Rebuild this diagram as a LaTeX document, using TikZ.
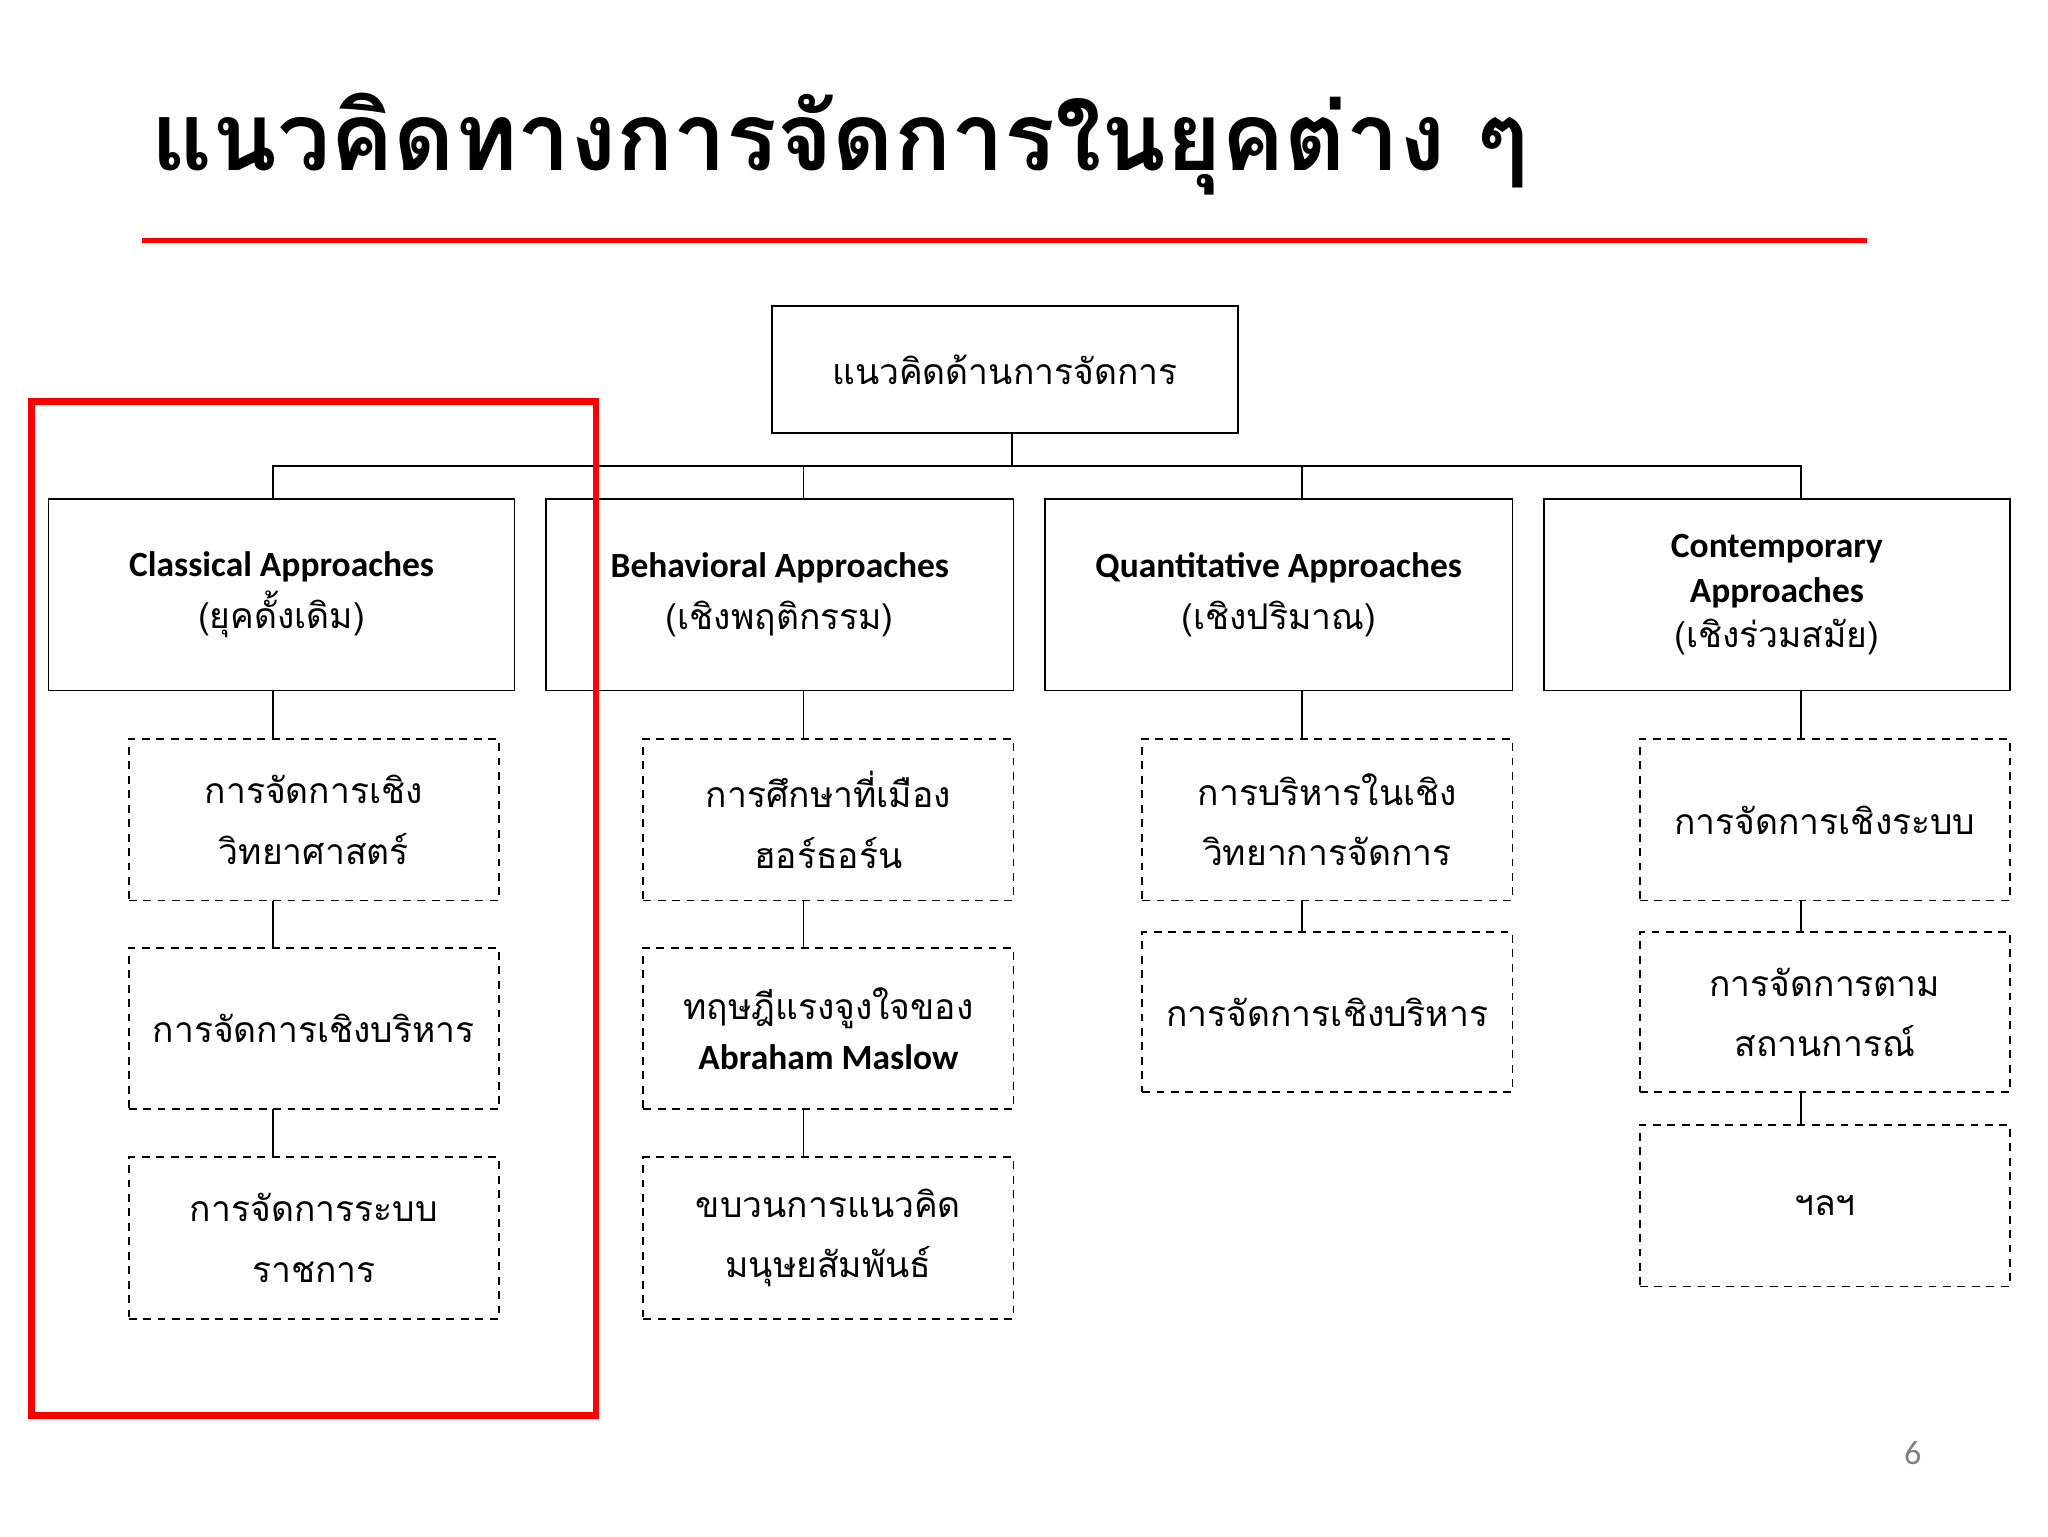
\documentclass[tikz,border=0pt]{standalone}
\usepackage{fontspec}
\setmainfont{Carlito}
\newfontfamily\thf[Script=Thai]{Loma}
\begin{document}
\begin{tikzpicture}[x=1pt,y=-1pt,
 solidbox/.style={draw,line width=1.3pt,align=center,font=\fontsize{27}{40}\selectfont},
 dbox/.style={draw,dashed,line width=1.3pt,dash pattern=on 6pt off 5pt,align=center,font=\fontsize{27}{46}\selectfont\thf},
 ln/.style={line width=1.3pt}]
\useasboundingbox (0,0) rectangle (1560,1170);
\fill[white] (0,0) rectangle (1560,1170);
\node[anchor=base west,font=\fontsize{72}{80}\selectfont\thf\bfseries] (title) at (112,130) {แนวคิดทางการจัดการในยุคต่าง ๆ};
\draw[red,line width=4pt] (108,183) -- (1422,183);
\node[solidbox,minimum width=355pt,minimum height=97pt,font=\fontsize{27}{40}\selectfont\thf] (top) at (765.5,281.5) {แนวคิดด้านการจัดการ};
% level 1
\node[solidbox,minimum width=355pt,minimum height=146pt] (c1) at (214.5,453) {\textbf{Classical Approaches}\\{\thf (ยุคดั้งเดิม)}};
\node[solidbox,minimum width=356pt,minimum height=146pt] (c2) at (594,453) {\textbf{Behavioral Approaches}\\{\thf (เชิงพฤติกรรม)}};
\node[solidbox,minimum width=356pt,minimum height=146pt] (c3) at (974,453) {\textbf{Quantitative Approaches}\\{\thf (เชิงปริมาณ)}};
\node[solidbox,minimum width=355pt,minimum height=146pt,font=\fontsize{27}{34}\selectfont] (c4) at (1353.5,453) {\textbf{Contemporary}\\\textbf{Approaches}\\{\thf (เชิงร่วมสมัย)}};
\coordinate (bus) at (771,355);
\draw[ln] (771,330) -- (bus);
\draw[ln] (208,380) -- (208,355) -- (1372,355) -- (1372,380);
\draw[ln] (612,355) -- (612,380);
\draw[ln] (992,355) -- (992,380);
% column 1
\node[dbox,minimum width=282pt,minimum height=123pt] (a1) at (239,624.5) {การจัดการเชิง\\วิทยาศาสตร์};
\node[dbox,minimum width=282pt,minimum height=123pt] (a2) at (239,783.5) {การจัดการเชิงบริหาร};
\node[dbox,minimum width=282pt,minimum height=123pt] (a3) at (239,943) {การจัดการระบบ\\ราชการ};
\draw[ln] (208,526) -- (208,563); \draw[ln] (208,686) -- (208,722); \draw[ln] (208,845) -- (208,882);
% column 2
\node[dbox,minimum width=282pt,minimum height=123pt] (b1) at (631,624.5) {การศึกษาที่เมือง\\ฮอร์ธอร์น};
\node[dbox,minimum width=282pt,minimum height=123pt,font=\fontsize{27}{38}\selectfont] (b2) at (631,783.5) {{\thf ทฤษฎีแรงจูงใจของ}\\\textbf{Abraham Maslow}};
\node[dbox,minimum width=282pt,minimum height=123pt] (b3) at (631,943) {ขบวนการแนวคิด\\มนุษยสัมพันธ์};
\draw[ln] (612,526) -- (612,563); \draw[ln] (612,686) -- (612,722); \draw[ln] (612,845) -- (612,882);
% column 3
\node[dbox,minimum width=282pt,minimum height=123pt] (q1) at (1011,624.5) {การบริหารในเชิง\\วิทยาการจัดการ};
\node[dbox,minimum width=282pt,minimum height=122pt] (q2) at (1011,771) {การจัดการเชิงบริหาร};
\draw[ln] (992,526) -- (992,563); \draw[ln] (992,686) -- (992,710);
% column 4
\node[dbox,minimum width=282pt,minimum height=123pt] (d1) at (1390,624.5) {การจัดการเชิงระบบ};
\node[dbox,minimum width=282pt,minimum height=122pt] (d2) at (1390,771) {การจัดการตาม\\สถานการณ์};
\node[dbox,minimum width=282pt,minimum height=123pt] (d3) at (1390,918.5) {ฯลฯ};
\draw[ln] (1372,526) -- (1372,563); \draw[ln] (1372,686) -- (1372,710); \draw[ln] (1372,832) -- (1372,857);
% red frame
\draw[red,line width=5pt] (24,306) rectangle (454,1078);
\node[text=gray,font=\fontsize{26}{30}\selectfont] (pg) at (1457,1107) {6};
\end{tikzpicture}
\end{document}
